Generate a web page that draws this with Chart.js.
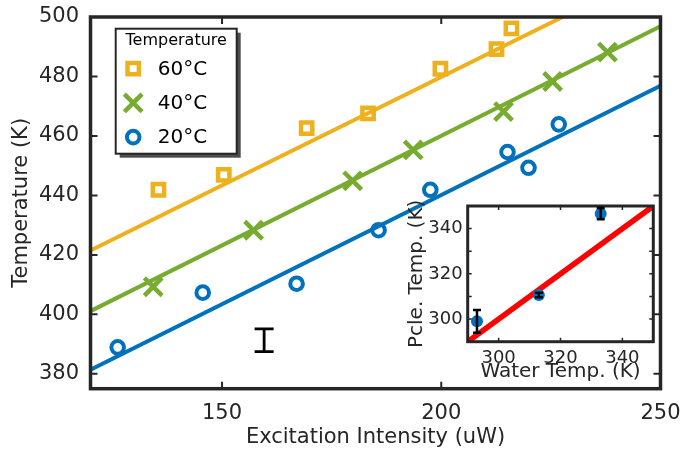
<!DOCTYPE html>
<html>
<head>
<meta charset="utf-8">
<script src="https://cdn.jsdelivr.net/npm/chart.js@4/dist/chart.umd.min.js"></script>
<style>
  body { margin: 0; background: #fff; }
  #wrap { position: relative; width: 682px; height: 450px; }
  #main { position: absolute; left: 0; top: 0; }
  #inset { position: absolute; left: 400px; top: 190px; }
</style>
</head>
<body>
<div id="wrap">
  <canvas id="main" width="682" height="450"></canvas>
  <canvas id="inset" width="265" height="200"></canvas>
</div>
<script>
// main plot: excitation intensity (uW) vs particle temperature (K)
const x60 = [135.5, 150.4, 169.3, 183.3, 199.8, 212.6, 216.0];
const y60 = [441.9, 446.9, 462.6, 467.6, 482.6, 489.2, 496.2];
const x40 = [134.3, 157.2, 179.8, 193.6, 214.2, 225.4, 237.9];
const y40 = [409.3, 428.3, 444.9, 455.3, 468.2, 478.3, 488.2];
const x20 = [126.2, 145.6, 167.0, 185.7, 197.5, 215.1, 219.9, 226.8];
const y20 = [388.9, 407.3, 410.3, 428.3, 441.9, 454.6, 449.3, 463.9];

// linear fits, value at x = 120 and x = 250
const fitX = [120, 250];
const fit60 = [421.5, 516.3];
const fit40 = [401.1, 496.9];
const fit20 = [381.4, 476.9];

// typical error bar
const errX = [159.6];
const errY = [391.3];
const errD = [3.85];

const labels = ["60°C", "40°C", "20°C"];
const xTicks = [150, 200, 250];
const yTicks = [380, 400, 420, 440, 460, 480, 500];

// inset: water temperature vs particle temperature
const inX = [293, 313, 333];
const inY = [299, 310.6, 346.6];
const inErr = [5, 1, 2.5];
const inFitX = [290, 350];
const inFitY = [290, 350];
const inXTicks = [300, 320, 340];
const inYTicks = [300, 310, 320, 330, 340];

const YEL = "#EDB120", GRN = "#77AC30", BLU = "#0072BD";
const INK = "#262626";
const FONT = "DejaVu Sans";

Chart.defaults.font.family = FONT;
Chart.defaults.color = INK;

const pts = (xs, ys) => xs.map((v, i) => ({ x: v, y: ys[i] }));

// box around the axes with inward ticks on all four sides
const frameTicks = {
  id: "frameTicks",
  afterDatasetsDraw(chart, args, o) {
    const { ctx, chartArea: a, scales: { x, y } } = chart;
    ctx.save();
    ctx.strokeStyle = INK;
    ctx.lineWidth = o.tickWidth;
    ctx.beginPath();
    x.ticks.forEach(t => {
      const px = x.getPixelForValue(t.value);
      ctx.moveTo(px, a.bottom); ctx.lineTo(px, a.bottom - o.len);
      ctx.moveTo(px, a.top); ctx.lineTo(px, a.top + o.len);
    });
    y.ticks.forEach(t => {
      const py = y.getPixelForValue(t.value);
      ctx.moveTo(a.left, py); ctx.lineTo(a.left + o.len, py);
      ctx.moveTo(a.right, py); ctx.lineTo(a.right - o.len, py);
    });
    ctx.stroke();
    ctx.lineWidth = o.width;
    ctx.strokeRect(a.left, a.top, a.right - a.left, a.bottom - a.top);
    ctx.restore();
  }
};

const errorBars = {
  id: "errorBars",
  afterDatasetsDraw(chart, args, o) {
    const { ctx, scales: { x, y } } = chart;
    ctx.save();
    ctx.strokeStyle = "#000";
    ctx.lineWidth = o.width;
    ctx.beginPath();
    o.xs.forEach((v, i) => {
      const px = x.getPixelForValue(v);
      const top = y.getPixelForValue(o.ys[i] + o.ds[i]);
      const bot = y.getPixelForValue(o.ys[i] - o.ds[i]);
      ctx.moveTo(px, top); ctx.lineTo(px, bot);
      ctx.moveTo(px - o.cap, top); ctx.lineTo(px + o.cap, top);
      ctx.moveTo(px - o.cap, bot); ctx.lineTo(px + o.cap, bot);
    });
    ctx.stroke();
    ctx.restore();
  }
};

const legendBox = {
  id: "legendBox",
  afterDraw(chart, args, o) {
    const { ctx, chartArea: a } = chart;
    const L = a.left + o.dx, T = a.top + o.dy, W = o.w, H = o.h;
    ctx.save();
    ctx.fillStyle = "#4d4d4d";
    ctx.fillRect(L + 4, T + 4, W, H);
    ctx.fillStyle = "#fff";
    ctx.fillRect(L, T, W, H);
    ctx.strokeStyle = INK;
    ctx.lineWidth = 2;
    ctx.strokeRect(L, T, W, H);
    ctx.fillStyle = "#000";
    ctx.textBaseline = "middle";
    ctx.textAlign = "center";
    ctx.font = "16px " + FONT;
    ctx.fillText(o.title, L + W / 2, T + 12.5);
    ctx.textAlign = "left";
    ctx.font = "20px " + FONT;
    o.rows.forEach((r, i) => {
      const ds = chart.data.datasets[i];
      const yy = T + 40 + i * 34.2;
      ctx.strokeStyle = ds.borderColor;
      ctx.fillStyle = "rgba(0,0,0,0)";
      ctx.lineWidth = ds.pointBorderWidth;
      Chart.helpers.drawPoint(ctx, {
        pointStyle: ds.pointStyle, radius: ds.pointRadius,
        borderWidth: ds.pointBorderWidth, rotation: 0
      }, L + 17.5, yy);
      ctx.fillStyle = "#000";
      ctx.fillText(r, L + 42, yy + 1);
    });
    ctx.restore();
  }
};

const fixedTicks = list => scale => { scale.ticks = list.map(v => ({ value: v })); };
const fitBox = (w, h) => s => {
  if (w) s.width = w;
  if (h) s.height = h;
  s.paddingTop = s.paddingBottom = s.paddingLeft = s.paddingRight = 0;
};

new Chart(document.getElementById("main"), {
  type: "scatter",
  data: {
    datasets: [
      { label: labels[0], data: pts(x60, y60), pointStyle: "rect", pointRadius: 8,
        pointBorderWidth: 4.5, borderColor: YEL, backgroundColor: "rgba(0,0,0,0)" },
      { label: labels[1], data: pts(x40, y40), pointStyle: "crossRot", pointRadius: 12.5,
        pointBorderWidth: 4.5, borderColor: GRN, backgroundColor: GRN },
      { label: labels[2], data: pts(x20, y20), pointStyle: "circle", pointRadius: 6.3,
        pointBorderWidth: 4, borderColor: BLU, backgroundColor: "rgba(0,0,0,0)" },
      { data: pts(fitX, fit60), showLine: true, pointRadius: 0, borderWidth: 4, borderColor: YEL },
      { data: pts(fitX, fit40), showLine: true, pointRadius: 0, borderWidth: 4, borderColor: GRN },
      { data: pts(fitX, fit20), showLine: true, pointRadius: 0, borderWidth: 4, borderColor: BLU }
    ]
  },
  options: {
    responsive: false,
    animation: false,
    devicePixelRatio: 1,
    layout: { padding: { top: 15, right: 21.5, left: 0, bottom: 0 } },
    plugins: {
      legend: { display: false },
      tooltip: { enabled: false },
      frameTicks: { width: 3.5, tickWidth: 2, len: 7 },
      errorBars: { xs: errX, ys: errY, ds: errD, cap: 9.5, width: 2.8 },
      legendBox: { dx: 25.2, dy: 11.7, w: 121, h: 125, title: "Temperature", rows: labels }
    },
    scales: {
      x: {
        type: "linear", min: 120, max: 250,
        afterBuildTicks: fixedTicks(xTicks),
        afterFit: fitBox(0, 61.3),
        grid: { display: false, drawTicks: false },
        border: { display: false },
        ticks: { font: { size: 21 }, padding: 12, maxRotation: 0, autoSkip: false },
        title: { display: true, text: "Excitation Intensity (uW)", font: { size: 21 }, padding: { top: 0, bottom: 0.3 } }
      },
      y: {
        type: "linear", min: 375, max: 500,
        afterBuildTicks: fixedTicks(yTicks),
        afterFit: fitBox(90.5, 0),
        grid: { display: false, drawTicks: false },
        border: { display: false },
        ticks: { font: { size: 21 }, padding: 11.5, autoSkip: false },
        title: { display: true, text: "Temperature (K)", font: { size: 21 }, padding: { top: 8.5, bottom: 0 } }
      }
    }
  },
  plugins: [frameTicks, errorBars, legendBox]
});

new Chart(document.getElementById("inset"), {
  type: "scatter",
  data: {
    datasets: [
      { data: pts(inX, inY), pointStyle: "circle", pointRadius: 6, pointBorderWidth: 0,
        backgroundColor: BLU, borderColor: BLU },
      { data: pts(inFitX, inFitY), showLine: true, pointRadius: 0, borderWidth: 5.5, borderColor: "#FF0000" }
    ]
  },
  options: {
    responsive: false,
    animation: false,
    devicePixelRatio: 1,
    layout: { padding: { top: 16, right: 11.7, left: 0, bottom: 0 } },
    plugins: {
      legend: { display: false },
      tooltip: { enabled: false },
      frameTicks: { width: 3, tickWidth: 1.5, len: 4 },
      errorBars: { xs: inX, ys: inY, ds: inErr, cap: 4, width: 2.5 }
    },
    scales: {
      x: {
        type: "linear", min: 290, max: 350,
        afterBuildTicks: fixedTicks(inXTicks),
        afterFit: fitBox(0, 48.3),
        grid: { display: false, drawTicks: false },
        border: { display: false },
        ticks: { font: { size: 18 }, padding: 6, maxRotation: 0, autoSkip: false },
        title: { display: true, text: "Water Temp. (K)", font: { size: 20 }, padding: { top: 0, bottom: 6.3 } }
      },
      y: {
        type: "linear", min: 290, max: 350,
        afterBuildTicks: fixedTicks(inYTicks),
        afterFit: fitBox(67.7, 0),
        grid: { display: false, drawTicks: false },
        border: { display: false },
        ticks: { font: { size: 18 }, padding: 5, autoSkip: false,
          callback: v => (v % 20 === 0 ? v : "") },
        title: { display: true, text: "Pcle. Temp. (K)", font: { size: 20 }, padding: { top: 4.7, bottom: 0 } }
      }
    }
  },
  plugins: [frameTicks, errorBars]
});
</script>
</body>
</html>
